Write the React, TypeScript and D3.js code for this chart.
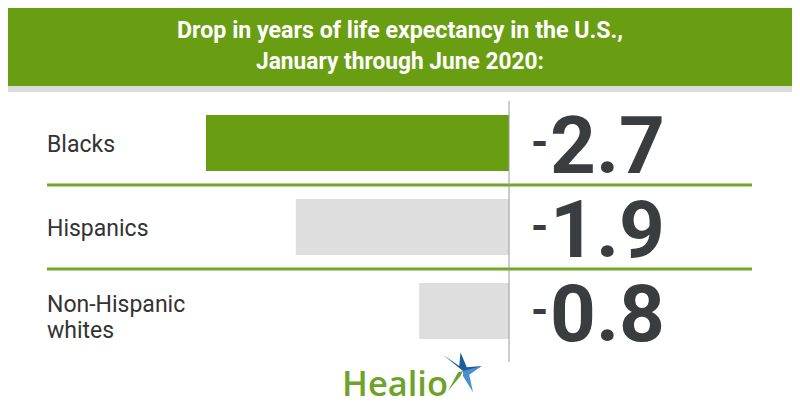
import React from 'react';
import * as d3 from 'd3';

// data
const groups = ['Blacks', 'Hispanics', 'Non-Hispanic whites'];
const groupLines = [['Blacks'], ['Hispanics'], ['Non-Hispanic', 'whites']];
const drops = [2.7, 1.9, 0.8];
const titleLines = ['Drop in years of life expectancy in the U.S.,', 'January through June 2020:'];

const W = 800;
const H = 420;
const GREEN = '#6a9e12';
const GREY_BAR = '#dedede';
const DARK = '#3a3d40';

const App = () => {
  // bars grow to the left from the axis line
  const x = d3.scaleLinear().domain([0, 2.7]).range([509, 206]);
  const y = d3
    .scaleBand<string>()
    .domain(groups)
    .range([101, 353])
    .paddingInner(1 / 3)
    .paddingOuter(1 / 6);
  const bw = y.bandwidth();
  const gap = (y.step() - bw) / 2;

  return (
    <div style={{ background: 'white', width: W, height: H, margin: -8 }}>
      <svg width={W} height={H} style={{ display: 'block' }}>
        {/* header */}
        <rect x={0} y={0} width={W} height={86} fill={GREEN} />
        <rect x={0} y={86} width={W} height={6} fill="#dcdcdc" />
        <text
          x={400}
          y={38}
          textAnchor="middle"
          fill="white"
          fontFamily="Roboto"
          fontWeight={700}
          fontSize={23.5}
          textLength={446}
          lengthAdjust="spacingAndGlyphs"
        >
          {titleLines[0]}
        </text>
        <text
          x={400}
          y={69}
          textAnchor="middle"
          fill="white"
          fontFamily="Roboto"
          fontWeight={700}
          fontSize={23.5}
          textLength={288}
          lengthAdjust="spacingAndGlyphs"
        >
          {titleLines[1]}
        </text>

        {groups.map((g, i) => {
          const y0 = y(g)!;
          const cy = y0 + bw / 2;
          const lines = groupLines[i];
          return (
            <g key={g}>
              <rect
                x={x(drops[i])}
                y={y0}
                width={x(0) - x(drops[i])}
                height={bw}
                fill={i === 0 ? GREEN : GREY_BAR}
              />
              {lines.map((l, j) => (
                <text
                  key={l}
                  x={47}
                  y={cy + 9 - (lines.length - 1) * 8 + j * 26}
                  fill="#333"
                  fontFamily="Roboto"
                  fontSize={23}
                >
                  {l}
                </text>
              ))}
              <text x={531} y={cy + 14} fill={DARK} fontFamily="Roboto" fontWeight={700} fontSize={44}>
                -
              </text>
              <text x={550} y={cy + 30} fill={DARK} fontFamily="Roboto" fontWeight={700} fontSize={80}>
                {drops[i].toFixed(1)}
              </text>
              {i < groups.length - 1 && (
                <line
                  x1={47}
                  x2={752}
                  y1={y0 + bw + gap}
                  y2={y0 + bw + gap}
                  stroke="#72a628"
                  strokeWidth={3}
                />
              )}
            </g>
          );
        })}

        {/* axis line */}
        <line x1={x(0)} x2={x(0)} y1={101} y2={362} stroke="#9a9a9a" strokeWidth={1} />

        {/* logo */}
        <text
          x={342}
          y={396}
          fill="#6ea22a"
          fontFamily="Open Sans"
          fontWeight={600}
          fontSize={35}
          textLength={106}
          lengthAdjust="spacingAndGlyphs"
        >
          Healio
        </text>
        <g transform="translate(463,371) scale(1.25)">
          <path d="M0,0 L-16,-13 L-3,-4 L-2,-15 L3,-3 L15,-4 L3,2 Z" fill="#1d5c9b" />
          <path d="M0,0 L15,-4 L5,3 L8,17 L0,4 Z" fill="#4a90d0" />
          <path d="M0,0 L-2,4 L-12,16 L-4,1 Z" fill="#6ea22a" />
        </g>
      </svg>
    </div>
  );
};

export default App;
